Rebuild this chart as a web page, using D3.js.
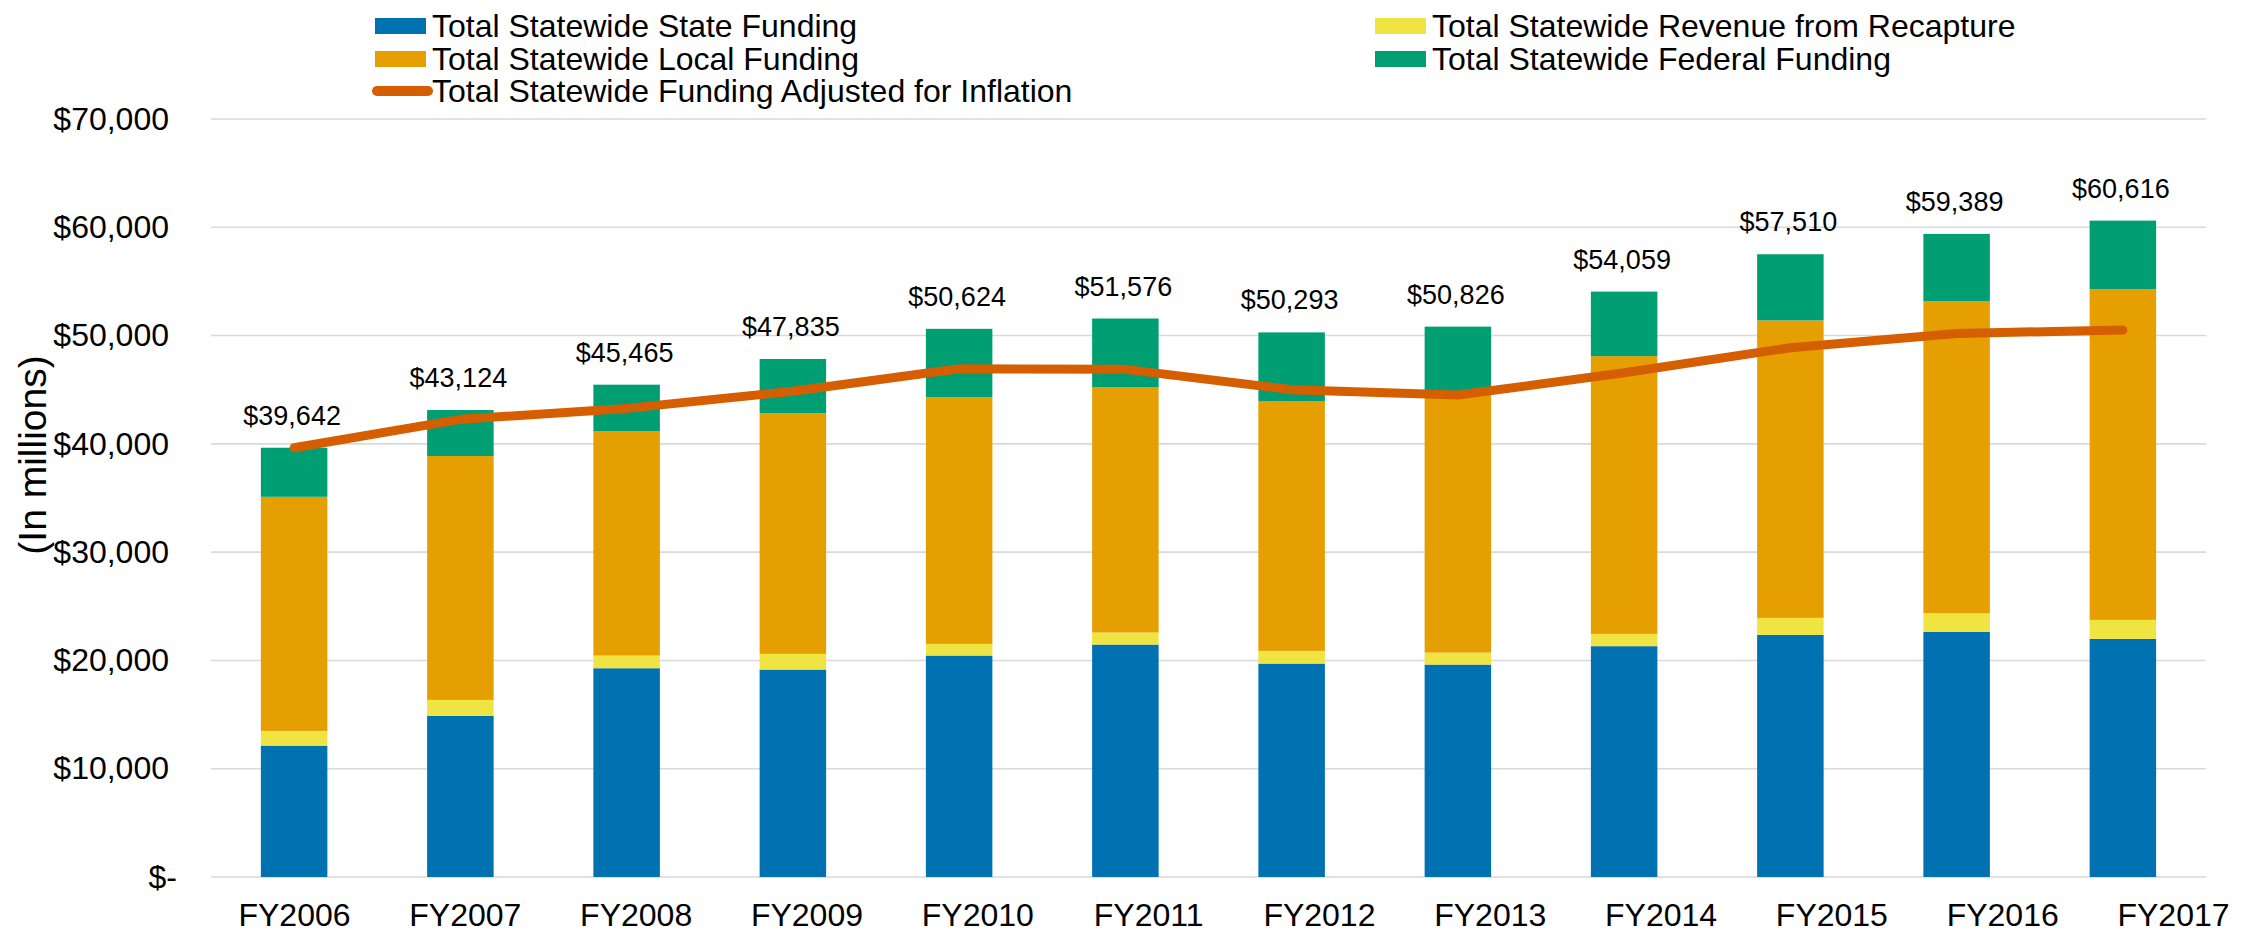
<!DOCTYPE html>
<html>
<head>
<meta charset="utf-8">
<script src="https://cdn.jsdelivr.net/npm/d3@7"></script>
<style>
  html, body { margin: 0; padding: 0; background: #fff; }
  svg { display: block; font-family: "Liberation Sans", Arial, sans-serif; }
</style>
</head>
<body>
<svg id="chart" width="2254" height="936"></svg>
<script>
const categories = ["FY2006","FY2007","FY2008","FY2009","FY2010","FY2011","FY2012","FY2013","FY2014","FY2015","FY2016","FY2017"];
const stateFunding = [12130, 14876, 19280, 19157, 20450, 21466, 19710, 19617, 21316, 22360, 22637, 21990];
const recaptureRevenue = [1360, 1478, 1170, 1447, 1078, 1109, 1170, 1108, 1136, 1570, 1727, 1755];
const localFunding = [21620, 22520, 20700, 22241, 22792, 22670, 23040, 23975, 25648, 27470, 28821, 30550];
const federalFunding = [4532, 4250, 4315, 4990, 6304, 6331, 6373, 6126, 5959, 6110, 6204, 6321];
const totalLabels = [39642, 43124, 45465, 47835, 50624, 51576, 50293, 50826, 54059, 57510, 59389, 60616];
const inflationAdjusted = [39642, 42262, 43275, 44860, 46935, 46880, 45000, 44505, 46565, 48875, 50200, 50510];
const yTicks = [0, 10000, 20000, 30000, 40000, 50000, 60000, 70000];

const seriesNames = ["Total Statewide State Funding", "Total Statewide Revenue from Recapture", "Total Statewide Local Funding", "Total Statewide Federal Funding"];
const seriesColors = ["#0072B2", "#F0E442", "#E69F00", "#009E73"];
const lineName = "Total Statewide Funding Adjusted for Inflation";
const lineColor = "#D55E00";

const svg = d3.select("#chart");
const margin = {left: 211, right: 2206, top: 119, bottom: 877};

const x = d3.scaleBand().domain(categories).range([margin.left, margin.right]).paddingInner(0.6).paddingOuter(0.3);
const xLabel = d3.scalePoint().domain(categories).range([294, 2173]);
const y = d3.scaleLinear().domain([0, 70000]).range([margin.bottom, margin.top]);

// gridlines
svg.append("g").selectAll("line").data(yTicks).join("line")
  .attr("x1", margin.left).attr("x2", margin.right)
  .attr("y1", d => y(d)).attr("y2", d => y(d))
  .attr("stroke", "#d9d9d9").attr("stroke-width", 1.6);

// y axis
const yAxis = d3.axisLeft(y).tickValues(yTicks).tickSize(0).tickPadding(0)
  .tickFormat(d => d === 0 ? "$-" : "$" + d3.format(",")(d));
const yg = svg.append("g").attr("transform", `translate(169,0)`).call(yAxis);
yg.select(".domain").remove();
yg.selectAll("text").attr("font-size", 32).attr("fill", "#000")
  .attr("font-family", "Liberation Sans, Arial, sans-serif")
  .attr("dx", d => d === 0 ? 8 : 0);

// x axis
const xAxis = d3.axisBottom(xLabel).tickSize(0).tickPadding(0);
const xg = svg.append("g").attr("transform", `translate(0,${margin.bottom})`).call(xAxis);
xg.select(".domain").remove();
xg.selectAll("text").attr("font-size", 32).attr("fill", "#000")
  .attr("font-family", "Liberation Sans, Arial, sans-serif")
  .attr("dy", null).attr("y", 49).attr("dominant-baseline", "alphabetic");

// y title
svg.append("text")
  .attr("transform", "translate(46,455) rotate(-90)")
  .attr("text-anchor", "middle")
  .attr("font-size", 39)
  .attr("fill", "#000")
  .text("(In millions)");

// stacked bars
const rows = categories.map((c, i) => ({
  cat: c,
  s0: stateFunding[i], s1: recaptureRevenue[i], s2: localFunding[i], s3: federalFunding[i]
}));
const stack = d3.stack().keys(["s0", "s1", "s2", "s3"]);
const stacked = stack(rows);

svg.append("g").selectAll("g").data(stacked).join("g")
  .attr("fill", (d, i) => seriesColors[i])
  .selectAll("rect").data(d => d).join("rect")
  .attr("x", d => x(d.data.cat))
  .attr("width", x.bandwidth())
  .attr("y", d => y(d[1]))
  .attr("height", d => y(d[0]) - y(d[1]));

// inflation line
const line = d3.line()
  .x((d, i) => x(categories[i]) + x.bandwidth() / 2)
  .y(d => y(d));
svg.append("path").datum(inflationAdjusted)
  .attr("d", line)
  .attr("fill", "none")
  .attr("stroke", lineColor)
  .attr("stroke-width", 9)
  .attr("stroke-linecap", "round")
  .attr("stroke-linejoin", "round");

// total labels
const topVals = rows.map(r => r.s0 + r.s1 + r.s2 + r.s3);
svg.append("g").selectAll("text").data(totalLabels).join("text")
  .attr("x", (d, i) => x(categories[i]) + x.bandwidth() / 2 - 2)
  .attr("y", (d, i) => y(topVals[i]) - 23)
  .attr("text-anchor", "middle")
  .attr("font-size", 27)
  .attr("fill", "#000")
  .text(d => "$" + d3.format(",")(d));

// legend
const legendItems = [
  {name: seriesNames[0], color: seriesColors[0], type: "rect", x: 375, y: 26},
  {name: seriesNames[2], color: seriesColors[2], type: "rect", x: 375, y: 59},
  {name: lineName, color: lineColor, type: "line", x: 375, y: 91},
  {name: seriesNames[1], color: seriesColors[1], type: "rect", x: 1375, y: 26},
  {name: seriesNames[3], color: seriesColors[3], type: "rect", x: 1375, y: 59}
];
const lg = svg.append("g").selectAll("g").data(legendItems).join("g")
  .attr("transform", d => `translate(${d.x},${d.y})`);
lg.filter(d => d.type === "rect").append("rect")
  .attr("x", 0).attr("y", -8).attr("width", 51).attr("height", 16)
  .attr("fill", d => d.color);
lg.filter(d => d.type === "line").append("line")
  .attr("x1", 2).attr("x2", 53).attr("y1", 0).attr("y2", 0)
  .attr("stroke", d => d.color).attr("stroke-width", 10).attr("stroke-linecap", "round");
lg.append("text")
  .attr("x", 57).attr("y", 0).attr("dy", "0.35em")
  .attr("font-size", 32).attr("fill", "#000")
  .text(d => d.name);
</script>
</body>
</html>
